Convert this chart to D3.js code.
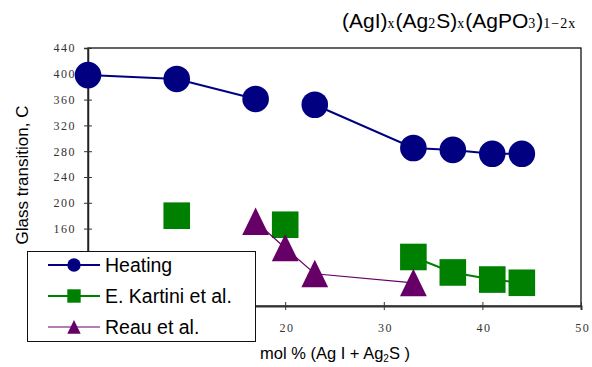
<!DOCTYPE html>
<html>
<head>
<meta charset="utf-8">
<script src="https://cdnjs.cloudflare.com/ajax/libs/d3/7.8.5/d3.min.js"></script>
<style>
  body { margin: 0; background: #fff; }
  text { font-family: "Liberation Sans", Arial, sans-serif; }
  .tick text { font-family: "Liberation Serif", serif; font-size: 12px; letter-spacing: 1.5px; fill: #333; }
</style>
</head>
<body>
<div id="chart"></div>
<script>
// shared x column (mol %), blanks break the lines
var xs = [0, 9, 17, 20, 23, 33, 37, 41, 44];
var heating = [398, 392, 361, null, 352, 285, 282, 276, 276];
var kartini = [null, 180, null, 166, null, 116, 92, 81, 76];
var reau = [null, null, 171, 130, 90, 76, null, null, null];
var seriesNames = ["Heating", "E. Kartini et al.", "Reau et al."];
var xTicks = [0, 10, 20, 30, 40, 50];
var yTicks = [40, 80, 120, 160, 200, 240, 280, 320, 360, 400, 440];

var W = 592, H = 367;
var plot = { left: 88, right: 581, top: 48, bottom: 306 };

var svg = d3.select("#chart").append("svg")
    .attr("width", W)
    .attr("height", H);

var x = d3.scaleLinear().domain([0, 50]).range([plot.left, plot.right]);
var y = d3.scaleLinear().domain([40, 440]).range([plot.bottom, plot.top]);

// frame
svg.append("rect")
    .attr("x", plot.left).attr("y", plot.top)
    .attr("width", plot.right - plot.left).attr("height", plot.bottom - plot.top)
    .attr("fill", "none").attr("stroke", "#111").attr("stroke-width", 1.3);

// axes
var gx = svg.append("g")
    .attr("transform", "translate(0," + plot.bottom + ")")
    .call(d3.axisBottom(x).tickValues(xTicks).tickSize(4).tickPadding(13));
var gy = svg.append("g")
    .attr("transform", "translate(" + plot.left + ",0)")
    .call(d3.axisLeft(y).tickValues(yTicks).tickSize(4).tickPadding(8));
gx.select(".domain").attr("stroke", "#333").attr("stroke-width", 2);
gy.select(".domain").attr("stroke", "#222").attr("stroke-width", 1.5);
gx.selectAll(".tick line").attr("y1", -4).attr("y2", 4).attr("stroke", "#333");
gy.selectAll(".tick line").attr("x1", 4).attr("x2", -4).attr("stroke", "#333");
gx.selectAll(".tick text").attr("dx", "0.1em");

// marker shapes
function marker(g, kind, s) {
    if (kind == "circle") {
        g.append("circle").attr("r", s);
    } else if (kind == "square") {
        g.append("rect").attr("x", -s).attr("y", -s).attr("width", 2 * s).attr("height", 2 * s);
    } else {
        g.append("path").attr("d", "M0," + (-s * 1.04) + "L" + s + "," + s + "L" + (-s) + "," + s + "Z");
    }
}

var series = [
    { name: seriesNames[0], values: heating, color: "#000080", width: 2, kind: "circle", size: 13.3 },
    { name: seriesNames[1], values: kartini, color: "#008000", width: 2, kind: "square", size: 13.3 },
    { name: seriesNames[2], values: reau, color: "#660066", width: 1.2, kind: "triangle", size: 13.4 }
];

var line = d3.line()
    .defined(function (d) { return d.v != null; })
    .x(function (d) { return x(d.x); })
    .y(function (d) { return y(d.v); });

series.forEach(function (s) {
    var pts = xs.map(function (xv, i) { return { x: xv, v: s.values[i] }; });
    var g = svg.append("g");
    g.append("path")
        .datum(pts)
        .attr("fill", "none")
        .attr("stroke", s.color)
        .attr("stroke-width", s.width)
        .attr("d", line);
    pts.filter(function (d) { return d.v != null; }).forEach(function (d) {
        var m = g.append("g")
            .attr("transform", "translate(" + x(d.x) + "," + y(d.v) + ")")
            .attr("fill", s.color);
        marker(m, s.kind, s.size);
    });
});

// legend
var lg = svg.append("g");
lg.append("rect")
    .attr("x", 27.5).attr("y", 251.5).attr("width", 228).attr("height", 90)
    .attr("fill", "#fff").attr("stroke", "#111").attr("stroke-width", 1);
series.forEach(function (s, i) {
    var cy = 265 + i * 31;
    lg.append("line")
        .attr("x1", 48).attr("x2", 100).attr("y1", cy).attr("y2", cy)
        .attr("stroke", s.color).attr("stroke-width", s.width);
    var m = lg.append("g").attr("transform", "translate(74," + cy + ")").attr("fill", s.color);
    marker(m, s.kind, 6.7);
    lg.append("text")
        .attr("x", 105).attr("y", cy + 7)
        .style("font-size", "19.5px")
        .text(s.name);
});

// axis titles
svg.append("text")
    .attr("transform", "translate(28,175) rotate(-90)")
    .attr("text-anchor", "middle")
    .style("font-size", "17px")
    .text("Glass transition, C");

var xt = svg.append("text")
    .attr("x", 260).attr("y", 359)
    .style("font-size", "16.5px");
xt.append("tspan").text("mol % (Ag I + Ag");
xt.append("tspan").attr("dy", 3).style("font-size", "10px").text("2");
xt.append("tspan").attr("dy", -3).text("S )");

// chart title
var tt = svg.append("text")
    .attr("x", 342).attr("y", 28)
    .style("font-size", "21px");
var parts = [["(AgI)", 0], ["x", 1], ["(Ag", 0], ["2", 1], ["S)", 0], ["x", 1], ["(AgPO", 0], ["3", 1], [")", 0], ["1\u22122x", 1]];
parts.forEach(function (p) {
    var t = tt.append("tspan").text(p[0]);
    if (p[1]) t.style("font-family", "Liberation Serif, serif").style("font-size", "14px").style("letter-spacing", "1px");
});
</script>
</body>
</html>
